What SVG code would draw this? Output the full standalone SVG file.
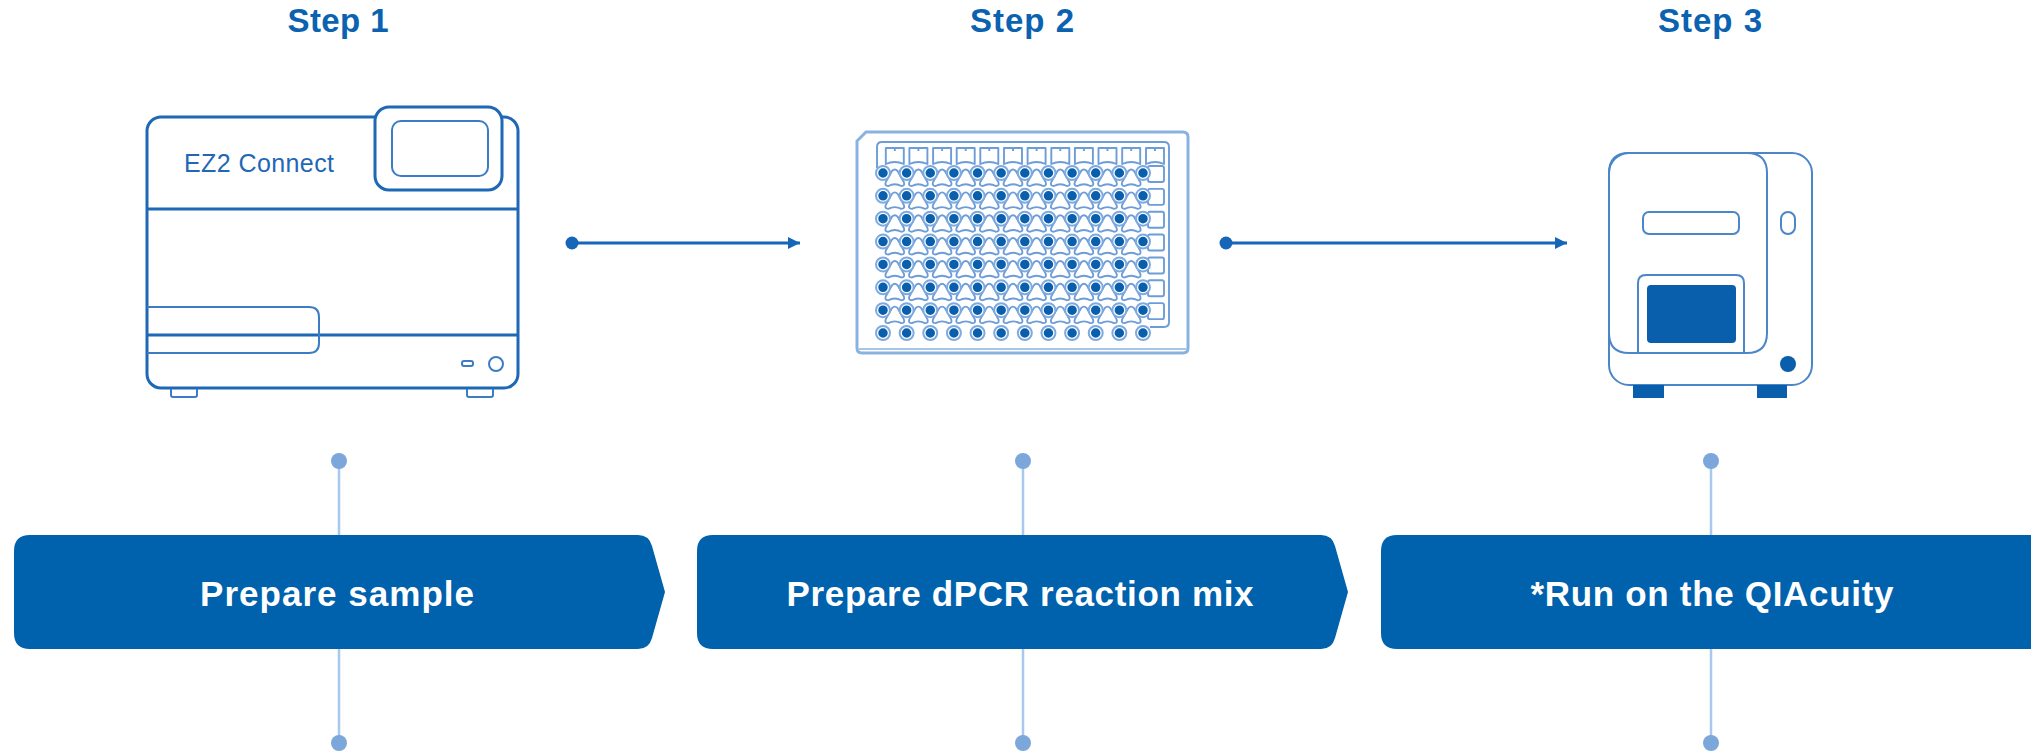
<svg xmlns="http://www.w3.org/2000/svg" xmlns:xlink="http://www.w3.org/1999/xlink" width="2031" height="751" viewBox="0 0 2031 751">
  <style>
    .step { font-family: "Liberation Sans", Arial, sans-serif; font-weight: bold; font-size: 33px; fill: #0a62b0; text-anchor: middle; }
    .label { font-family: "Liberation Sans", Arial, sans-serif; font-weight: bold; font-size: 35px; fill: #ffffff; text-anchor: middle; }
    .box { fill: #0061ad; }
    .stem { stroke: #a9c8ec; stroke-width: 2.5; fill: none; }
    .stemdot { fill: #7ba7da; }
    .flow { stroke: #1565b8; stroke-width: 3; fill: none; }
    .ez { fill: none; stroke: #1f68b5; stroke-width: 3; }
    .ezthin { fill: none; stroke: #3b7cc4; stroke-width: 2; }
    .qia { fill: none; stroke: #4a86c8; stroke-width: 2; }
    .solid { fill: #0a5fac; }
    .well { fill: none; stroke: #6d9dd8; stroke-width: 1.9; stroke-linejoin: round; }
  </style>
  <defs>
    <marker id="arrowhead" markerWidth="14" markerHeight="14" refX="12" refY="6" orient="auto" markerUnits="userSpaceOnUse">
      <path d="M0,0 L12,6 L0,12 Z" fill="#1565b8"/>
    </marker>
    <!-- tri-lobed partition well of the nanoplate -->
    <path id="tri" class="well" d="M-2.8,1 Q0,-2 2.8,1 L9,12 Q10.5,16 6.5,16 Q0,12.5 -6.5,16 Q-10.5,16 -9,12 Z"/>
    <g id="triRow">
      <use href="#tri" x="894.8" y="170"/>
      <use href="#tri" x="918.4" y="170"/>
      <use href="#tri" x="942.1" y="170"/>
      <use href="#tri" x="965.7" y="170"/>
      <use href="#tri" x="989.3" y="170"/>
      <use href="#tri" x="1013.0" y="170"/>
      <use href="#tri" x="1036.6" y="170"/>
      <use href="#tri" x="1060.3" y="170"/>
      <use href="#tri" x="1083.9" y="170"/>
      <use href="#tri" x="1107.5" y="170"/>
      <use href="#tri" x="1131.2" y="170"/>
      <rect class="well" x="1148" y="166" width="16" height="16" rx="2"/>
    </g>
    <!-- inlet dots: ring, gap, filled centre -->
    <g id="dotRow">
      <line x1="883" y1="173" x2="1143.5" y2="173" stroke="#7eaae0" stroke-width="16" stroke-linecap="round" stroke-dasharray="0 23.636"/>
      <line x1="883" y1="173" x2="1143.5" y2="173" stroke="#ffffff" stroke-width="12" stroke-linecap="round" stroke-dasharray="0 23.636"/>
      <line x1="883" y1="173" x2="1143.5" y2="173" stroke="#0a5fac" stroke-width="9.5" stroke-linecap="round" stroke-dasharray="0 23.636"/>
    </g>
    <path id="topWell" class="well" d="M-9,0 H9 V16 Q0,12 -9,16 Z M0,0 V3"/>
  </defs>

  <!-- step headings -->
  <g id="headings">
    <text class="step" x="338" y="32" textLength="101" lengthAdjust="spacing">Step 1</text>
    <text class="step" x="1022" y="32" textLength="104" lengthAdjust="spacing">Step 2</text>
    <text class="step" x="1710" y="32" textLength="104" lengthAdjust="spacing">Step 3</text>
  </g>

  <!-- EZ2 Connect instrument -->
  <g id="ez2-connect">
    <rect class="ez" x="147" y="117" width="371" height="271" rx="14"/>
    <rect class="ez" x="375" y="107" width="127" height="83" rx="14" style="fill:#ffffff"/>
    <rect class="ezthin" x="392" y="121" width="96" height="55" rx="9"/>
    <line class="ez" x1="147" y1="209" x2="518" y2="209"/>
    <line class="ez" x1="147" y1="335" x2="518" y2="335"/>
    <path class="ezthin" d="M147,307 H309 Q319,307 319,317 V343 Q319,353 309,353 H147"/>
    <rect class="ezthin" x="462" y="361" width="11" height="5" rx="2"/>
    <circle class="ezthin" cx="496" cy="364" r="7"/>
    <path class="ezthin" d="M171,389 V395 Q171,397 173,397 H195 Q197,397 197,395 V389"/>
    <path class="ezthin" d="M467,389 V395 Q467,397 469,397 H491 Q493,397 493,395 V389"/>
    <text x="184" y="172" font-family="'Liberation Sans', Arial, sans-serif" font-size="25" fill="#1f68b5" textLength="150" lengthAdjust="spacing">EZ2 Connect</text>
  </g>

  <!-- dPCR nanoplate -->
  <g id="nanoplate">
    <path d="M866,132 H1183 Q1188,132 1188,137 V348 Q1188,353 1183,353 H862 Q857,353 857,348 V141 Z" fill="none" stroke="#8ab2e0" stroke-width="3"/>
    <line x1="859" y1="349" x2="1186" y2="349" stroke="#8ab2e0" stroke-width="1.5"/>
    <path class="well" d="M877,168 V147 Q877,142 882,142 H1164 Q1169,142 1169,147 V322 Q1169,327 1164,327 H1150"/>
    <use href="#topWell" x="894.8" y="148"/>
    <use href="#topWell" x="918.4" y="148"/>
    <use href="#topWell" x="942.1" y="148"/>
    <use href="#topWell" x="965.7" y="148"/>
    <use href="#topWell" x="989.3" y="148"/>
    <use href="#topWell" x="1013.0" y="148"/>
    <use href="#topWell" x="1036.6" y="148"/>
    <use href="#topWell" x="1060.3" y="148"/>
    <use href="#topWell" x="1083.9" y="148"/>
    <use href="#topWell" x="1107.5" y="148"/>
    <use href="#topWell" x="1131.2" y="148"/>
    <use href="#topWell" x="1155.0" y="148"/>
    <use href="#triRow" y="0"/>
    <use href="#triRow" y="22.857"/>
    <use href="#triRow" y="45.714"/>
    <use href="#triRow" y="68.571"/>
    <use href="#triRow" y="91.429"/>
    <use href="#triRow" y="114.286"/>
    <use href="#triRow" y="137.143"/>
    <use href="#dotRow" y="0"/>
    <use href="#dotRow" y="22.857"/>
    <use href="#dotRow" y="45.714"/>
    <use href="#dotRow" y="68.571"/>
    <use href="#dotRow" y="91.429"/>
    <use href="#dotRow" y="114.286"/>
    <use href="#dotRow" y="137.143"/>
    <use href="#dotRow" y="160"/>
  </g>

  <!-- QIAcuity instrument -->
  <g id="qiacuity">
    <rect class="qia" x="1609" y="153" width="203" height="232" rx="20"/>
    <path class="qia" d="M1609,333 V173 Q1609,153 1629,153 H1747 Q1767,153 1767,173 V333 Q1767,353 1747,353 H1629 Q1609,353 1609,333"/>
    <rect class="qia" x="1643" y="212" width="96" height="22" rx="6"/>
    <rect class="qia" x="1781" y="212" width="14" height="22" rx="7"/>
    <path class="qia" d="M1638,353 V283 Q1638,275 1646,275 H1736 Q1744,275 1744,283 V353"/>
    <rect class="solid" x="1647" y="285" width="89" height="58" rx="4"/>
    <circle class="solid" cx="1788" cy="364" r="8"/>
    <rect class="solid" x="1633" y="385" width="31" height="13"/>
    <rect class="solid" x="1757" y="385" width="30" height="13"/>
  </g>

  <!-- connectors -->
  <g id="connectors">
    <line class="flow" x1="572" y1="243" x2="800" y2="243" marker-end="url(#arrowhead)"/>
    <circle cx="572" cy="243" r="6.5" fill="#1565b8"/>
    <line class="flow" x1="1226" y1="243" x2="1567" y2="243" marker-end="url(#arrowhead)"/>
    <circle cx="1226" cy="243" r="6.5" fill="#1565b8"/>

    <line class="stem" x1="339" y1="461" x2="339" y2="743"/>
    <circle class="stemdot" cx="339" cy="461" r="8"/>
    <circle class="stemdot" cx="339" cy="743" r="8"/>
    <line class="stem" x1="1023" y1="461" x2="1023" y2="743"/>
    <circle class="stemdot" cx="1023" cy="461" r="8"/>
    <circle class="stemdot" cx="1023" cy="743" r="8"/>
    <line class="stem" x1="1711" y1="461" x2="1711" y2="743"/>
    <circle class="stemdot" cx="1711" cy="461" r="8"/>
    <circle class="stemdot" cx="1711" cy="743" r="8"/>
  </g>

  <!-- process steps -->
  <g id="step-1">
    <path class="box" d="M30,535 H638 Q649,535 652,546 L665,592 L652,638 Q649,649 638,649 H30 Q14,649 14,633 V551 Q14,535 30,535 Z"/>
    <text class="label" x="337" y="606" textLength="274" lengthAdjust="spacing">Prepare sample</text>
  </g>
  <g id="step-2">
    <path class="box" d="M713,535 H1321 Q1332,535 1335,546 L1348,592 L1335,638 Q1332,649 1321,649 H713 Q697,649 697,633 V551 Q697,535 713,535 Z"/>
    <text class="label" x="1020" y="606" textLength="467" lengthAdjust="spacing">Prepare dPCR reaction mix</text>
  </g>
  <g id="step-3">
    <path class="box" d="M1397,535 H2060 V649 H1397 Q1381,649 1381,633 V551 Q1381,535 1397,535 Z"/>
    <text class="label" x="1712" y="606" textLength="363" lengthAdjust="spacing">*Run on the QIAcuity</text>
  </g>
</svg>
